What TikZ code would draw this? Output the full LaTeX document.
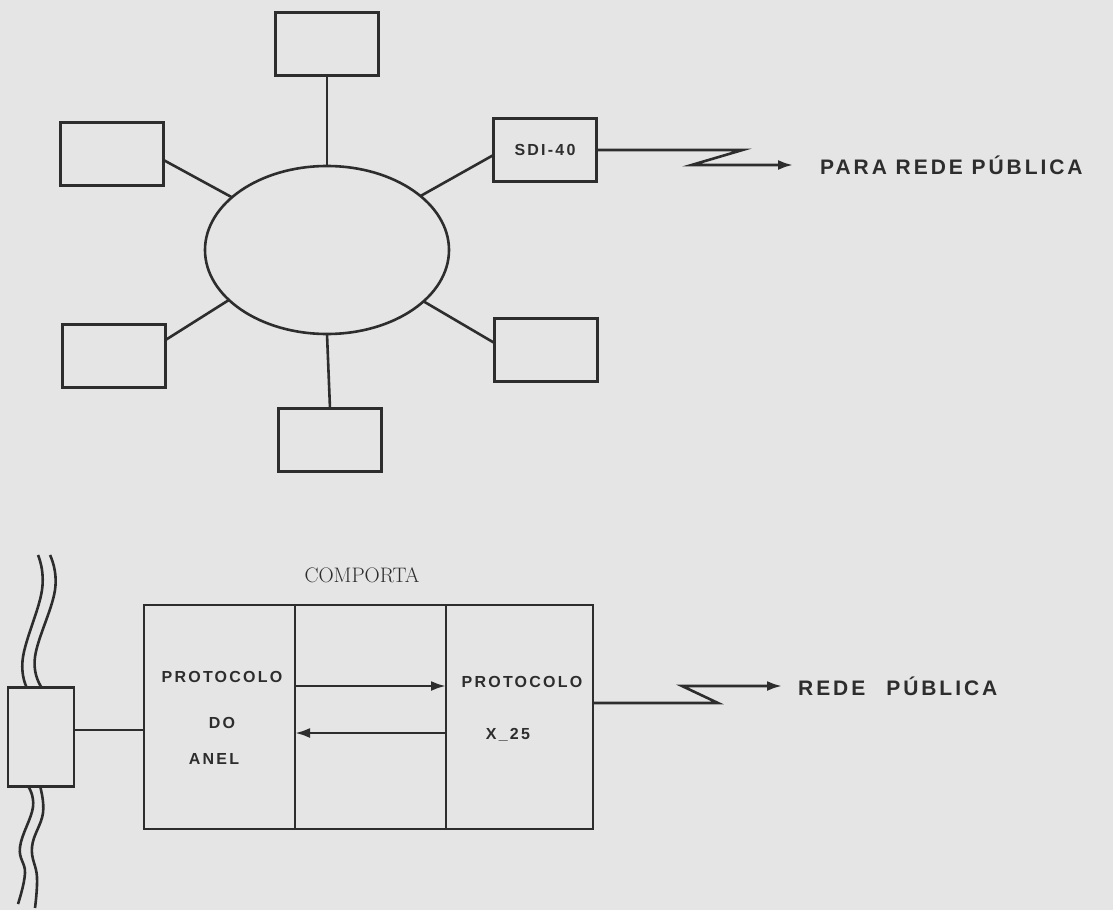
\documentclass[tikz,border=0pt]{standalone}
\usepackage{fontspec}
\newfontfamily\plotfont[LetterSpace=14]{Liberation Sans}
\usepackage{tikz}
\usetikzlibrary{positioning, arrows.meta, shapes.geometric}
\definecolor{paper}{RGB}{229,229,229}
\definecolor{ink}{RGB}{45,45,45}

\begin{document}
\begin{tikzpicture}[
  x=1pt, y=-1pt,
  font=\plotfont\bfseries\fontsize{21}{24}\selectfont,
  every node/.style={text=ink},
  box/.style={draw=ink, line width=2.6pt, minimum width=103pt, minimum height=63pt,
    inner sep=0pt, outer sep=0pt},
  lan/.style={ellipse, draw=ink, line width=2.6pt, minimum width=244pt,
    minimum height=168pt, inner sep=0pt, outer sep=0pt},
  cell/.style={draw=ink, line width=2.6pt, minimum width=151pt, minimum height=224pt,
    inner sep=0pt, outer sep=0pt},
  tapbox/.style={cell, minimum width=66pt, minimum height=99pt},
  small/.style={font=\plotfont\bfseries\fontsize{16}{18}\selectfont},
  link/.style={draw=ink, line width=2.6pt},
  arrow/.style={link, -{Latex[length=15pt, width=10pt]}},
]
  \path[use as bounding box, fill=paper] (0,0) rectangle (1113,910);

  % anel
  \node[lan] (ring) at (327,250) {};
  \node[box] (top) at (327,44) {};
  \node[box] (ul)  at (112,154) {};
  \node[box] (ll)  at (114,356) {};
  \node[box] (bot) at (330,440) {};
  \node[box, small] (sdi) at (545,150) {SDI-40};
  \node[box] (lr)  at (546,350) {};
  \node[anchor=west, inner sep=0pt] (pub1) at (820,165) {PARA REDE PÚBLICA};

  \draw[link] (ring.north) -- (top.south);
  \draw[link] (ring.south) -- (bot.north);
  \draw[link] (ring.30)  -- ([yshift=-5pt]sdi.west);
  \draw[link] (ring.-28) -- ([yshift=7pt]lr.west);
  \draw[link] (ring.151) -- ([yshift=-6pt]ul.east);
  \draw[link] (ring.207) -- ([yshift=16pt]ll.east);
  \draw[arrow] (sdi.east) -- ++(146,0) -- ++(-51,15) -- ([xshift=-27pt]pub1.west);

  % comporta
  \node[font=\rmfamily\fontsize{21}{24}\selectfont] (gate) at (362,575) {COMPORTA};
  \node[cell] (cellA) at (219.5,717) {};
  \node[cell, right=0pt of cellA] (cellB) {};
  \node[cell, right=0pt of cellB, minimum width=147pt] (cellC) {};
  \node[small] (pa1) at (222,677) {PROTOCOLO};
  \node[small] (pa2) at (222,723) {DO};
  \node[small] (pa3) at (214,759) {ANEL};
  \node[small] (pc1) at (522,682) {PROTOCOLO};
  \node[small] (pc2) at (508,735) {X\_25};
  \node[anchor=west, inner sep=0pt] (pub2) at (798,686) {REDE\quad PÚBLICA};

  \draw[arrow] ([yshift=31pt]cellB.west) -- ([yshift=31pt]cellB.east);
  \draw[arrow] ([yshift=-16pt]cellB.east) -- ([yshift=-16pt]cellB.west);
  \draw[arrow] ([yshift=14pt]cellC.east) -- ++(125,0) -- ++(-36,-17) -- ([xshift=-16pt]pub2.west);

  % cabo do anel
  \node[tapbox] (tap) at (41,737) {};
  \coordinate (tapout) at ([yshift=7pt]tap.east);
  \draw[link] (tapout) -- (tapout -| cellA.west);
  \draw[link] plot[smooth, tension=0.7] coordinates {(38,555) (42,590) (23,657) (27,688)};
  \draw[link] plot[smooth, tension=0.7] coordinates {(50,555) (55,590) (35,657) (42,688)};
  \draw[link] plot[smooth, tension=0.7] coordinates {(28,786) (33,807) (20,847) (25,873) (18,904)};
  \draw[link] plot[smooth, tension=0.7] coordinates {(40,786) (43,813) (32,847) (37,877) (35,908)};
\end{tikzpicture}
\end{document}
